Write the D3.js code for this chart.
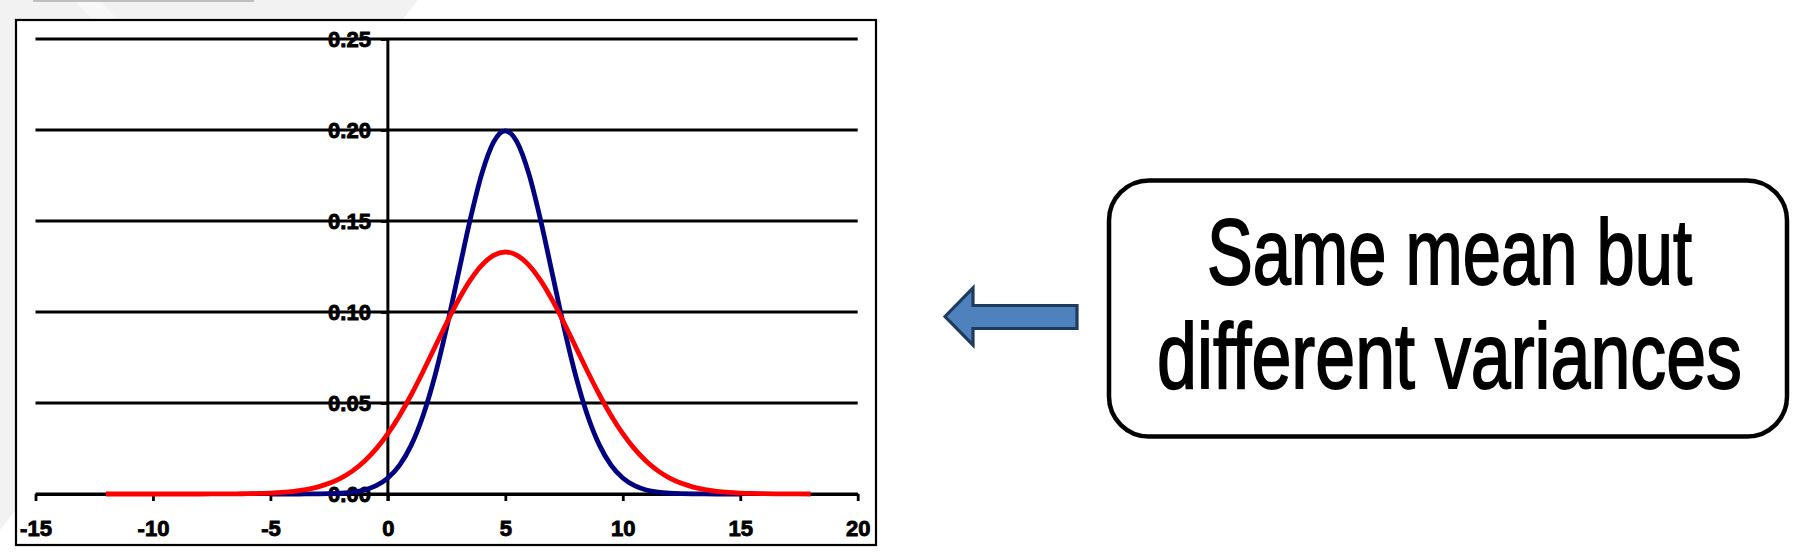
<!DOCTYPE html>
<html>
<head>
<meta charset="utf-8">
<script src="https://cdn.jsdelivr.net/npm/d3@7"></script>
<style>
  html, body { margin: 0; padding: 0; background: #ffffff; }
  svg { display: block; }
</style>
</head>
<body>
<svg id="chart" width="1817" height="557"></svg>
<script>
// ---- data ----
const xValues = [-12,-11.5,-11,-10.5,-10,-9.5,-9,-8.5,-8,-7.5,-7,-6.5,-6,-5.5,-5,-4.5,-4,-3.5,-3,-2.5,-2,-1.5,-1,-0.5,
  0,0.5,1,1.5,2,2.5,3,3.5,4,4.5,5,5.5,6,6.5,7,7.5,8,8.5,9,9.5,10,10.5,11,11.5,12,12.5,13,13.5,14,14.5,15,15.5,16,16.5,17,17.5,18];

// narrower curve (blue)
const blueValues = [null,null,null,null,null,null,null,null,null,null,null,null,null,null,
  0.0000007,0.0000025,0.000008,0.000024,0.000067,0.000177,0.000436,0.00102,0.00222,0.00455,
  0.00876,0.01587,0.02700,0.04318,0.06476,0.09132,0.12099,0.15057,0.17603,0.19333,0.19947,
  0.19333,0.17603,0.15057,0.12099,0.09132,0.06476,0.04318,0.02700,0.01587,0.00876,
  0.00455,0.00222,0.00102,0.000436,0.000177,0.000067,0.000024,0.000008,0.0000025,0.0000007,
  null,null,null,null,null,null];

// wider curve (red)
const redValues = [0,0,0.0000001,0.0000002,0.0000005,0.0000011,0.0000025,0.0000053,0.0000111,0.0000226,
  0.0000446,0.0000857,0.00016,0.000291,0.000514,0.000883,0.001477,0.002401,0.003799,0.005844,
  0.008741,0.01272,0.01800,0.02477,0.03317,0.04318,0.05467,0.06733,0.08066,0.09397,0.10648,
  0.11735,0.12580,0.13115,0.13298,0.13115,0.12580,0.11735,0.10648,0.09397,0.08066,0.06733,
  0.05467,0.04318,0.03317,0.02477,0.01800,0.01272,0.008741,0.005844,0.003799,0.002401,
  0.001477,0.000883,0.000514,0.000291,0.00016,0.0000857,0.0000446,0.0000226,0.0000111];

const xTicks = [-15,-10,-5,0,5,10,15,20];
const xTickLabels = ["-15","-10","-5","0","5","10","15","20"];
const yTicks = [0,0.05,0.10,0.15,0.20,0.25];
const yTickLabels = ["0.00","0.05","0.10","0.15","0.20","0.25"];
const calloutLines = ["Same mean but", "different variances"];

// ---- drawing ----
const svg = d3.select("#chart");
const labelFont = "'Liberation Sans', Arial, sans-serif";

// slide background decoration
svg.append("polygon")
  .attr("points", "0,0 418,0 0,530")
  .attr("fill", "#f2f2f2");
svg.append("polygon")
  .attr("points", "74,0 100,0 118,20 92,20")
  .attr("fill", "#f8f8f8");
svg.append("rect")
  .attr("x", 33).attr("y", 0).attr("width", 221).attr("height", 2)
  .attr("fill", "#bfbfbf");

// chart frame
svg.append("rect")
  .attr("x", 16).attr("y", 20).attr("width", 860).attr("height", 525)
  .attr("fill", "#ffffff").attr("stroke", "#000").attr("stroke-width", 2.2);

const x = d3.scaleLinear().domain([-15, 20]).range([35.5, 857.7]);
const y = d3.scaleLinear().domain([0, 0.25]).range([494, 39]);

// gridlines
svg.append("g").selectAll("line")
  .data(yTicks)
  .join("line")
  .attr("x1", x(-15)).attr("x2", x(20))
  .attr("y1", d => y(d)).attr("y2", d => y(d))
  .attr("stroke", "#000").attr("stroke-width", 2.8);

// x axis
const xAxis = svg.append("g")
  .attr("transform", `translate(0,${y(0)})`)
  .call(d3.axisBottom(x).tickValues(xTicks)
    .tickFormat((d, i) => xTickLabels[i])
    .tickSize(7).tickSizeOuter(0).tickPadding(19));
xAxis.select(".domain").attr("stroke", "#000").attr("stroke-width", 2.8);
xAxis.selectAll(".tick line").attr("stroke", "#000").attr("stroke-width", 2.8);
xAxis.selectAll("text")
  .attr("font-family", labelFont)
  .attr("font-weight", "bold").attr("font-size", 22).attr("fill", "#000")
  .attr("stroke", "#000").attr("stroke-width", 0.9);

// y axis at x = 0
const yAxis = svg.append("g")
  .attr("transform", `translate(${x(0)},0)`)
  .call(d3.axisLeft(y).tickValues(yTicks)
    .tickFormat((d, i) => yTickLabels[i])
    .tickSize(7).tickSizeOuter(0).tickPadding(10));
yAxis.select(".domain").remove();
yAxis.selectAll(".tick line").attr("stroke", "#000").attr("stroke-width", 2.8);
yAxis.selectAll("text")
  .attr("font-family", labelFont)
  .attr("font-weight", "bold").attr("font-size", 22).attr("fill", "#000")
  .attr("stroke", "#000").attr("stroke-width", 0.9);
svg.append("line")
  .attr("x1", x(0)).attr("x2", x(0))
  .attr("y1", y(0.25)).attr("y2", y(0) + 7)
  .attr("stroke", "#000").attr("stroke-width", 3);

// series
const line = (vals) => d3.line()
  .defined((d, i) => vals[i] !== null)
  .x(d => x(d))
  .y((d, i) => y(vals[i]))
  .curve(d3.curveMonotoneX);

svg.append("path")
  .attr("d", line(blueValues)(xValues))
  .attr("fill", "none").attr("stroke", "#000080").attr("stroke-width", 4.8)
  .attr("stroke-linejoin", "round");
svg.append("path")
  .attr("d", line(redValues)(xValues))
  .attr("fill", "none").attr("stroke", "#ff0000").attr("stroke-width", 4.8)
  .attr("stroke-linejoin", "round");

// arrow
svg.append("polygon")
  .attr("points", "945,316.5 973,288 973,305.5 1077,305.5 1077,328.5 973,328.5 973,345")
  .attr("fill", "#4f81bd").attr("stroke", "#1f3a5f").attr("stroke-width", 3.2)
  .attr("stroke-linejoin", "miter");

// callout box
svg.append("rect")
  .attr("x", 1109).attr("y", 180.5).attr("width", 678).attr("height", 256)
  .attr("rx", 40).attr("ry", 40)
  .attr("fill", "#ffffff").attr("stroke", "#000").attr("stroke-width", 4.5);

const textInfo = [{base: 284, len: 485}, {base: 388, len: 585}];
const cx = 1449.5;
svg.append("g").selectAll("text")
  .data(calloutLines)
  .join("text")
  .attr("x", 0)
  .attr("y", 0)
  .attr("text-anchor", "middle")
  .attr("font-family", "'Liberation Sans Narrow', 'Liberation Sans', Arial, sans-serif")
  .attr("font-size", 93)
  .attr("fill", "#000").attr("stroke", "#000").attr("stroke-width", 1.8)
  .text(d => d)
  .each(function(d, i) {
    const natural = this.getComputedTextLength();
    const sx = textInfo[i].len / natural;
    d3.select(this).attr("transform", `translate(${cx},${textInfo[i].base}) scale(${sx},1)`);
  });
</script>
</body>
</html>
